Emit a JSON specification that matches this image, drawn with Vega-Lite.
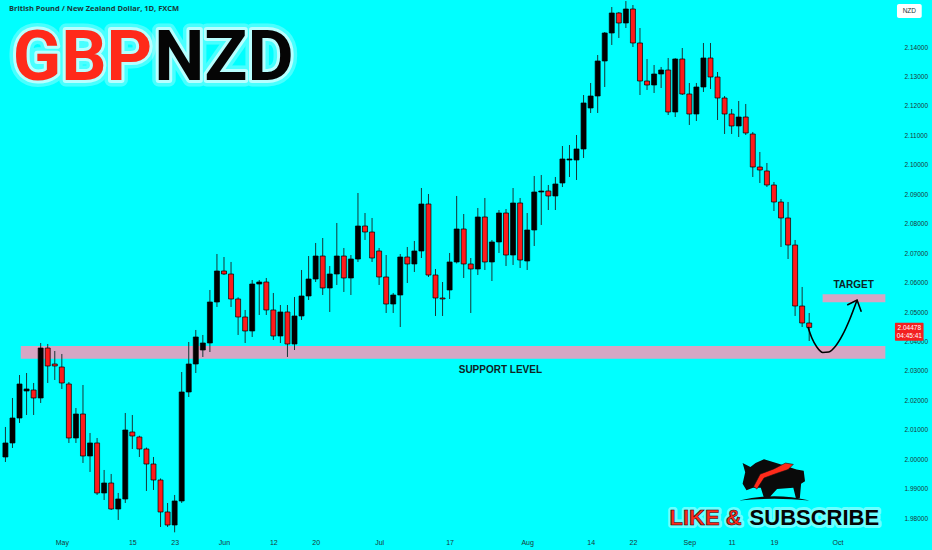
{
"$schema":"https://vega.github.io/schema/vega-lite/v6.json",
"width":895,"height":533,
"autosize":{"type":"none"},
"padding":{"left":0,"top":0,"right":37,"bottom":17},
"background":"#00ffff",
"config":{"view":{"stroke":null}},
"resolve":{"axis":{"x":"independent","y":"independent"}},
"datasets":{
"candles":[
{"i":-8,"o":2.00078,"h":2.01097,"l":1.99908,"c":2.00554},
{"i":-7,"o":2.00554,"h":2.02082,"l":2.00384,"c":2.01402},
{"i":-6,"o":2.01402,"h":2.02862,"l":2.01233,"c":2.02557},
{"i":-5,"o":2.02319,"h":2.02930,"l":2.01504,"c":2.02387},
{"i":-4,"o":2.02353,"h":2.02591,"l":2.01504,"c":2.02082},
{"i":-3,"o":2.02082,"h":2.03949,"l":2.01912,"c":2.03779},
{"i":-2,"o":2.03779,"h":2.03915,"l":2.02591,"c":2.03168},
{"i":-1,"o":2.03236,"h":2.03677,"l":2.02693,"c":2.03168},
{"i":0,"o":2.03134,"h":2.03576,"l":2.02387,"c":2.02591},
{"i":1,"o":2.02557,"h":2.02625,"l":2.00554,"c":2.00723},
{"i":2,"o":2.00723,"h":2.01742,"l":2.00554,"c":2.01538},
{"i":3,"o":2.01538,"h":2.02523,"l":1.99874,"c":2.00112},
{"i":4,"o":2.00112,"h":2.00893,"l":1.99569,"c":2.00554},
{"i":5,"o":2.00554,"h":2.00723,"l":1.98788,"c":1.98856},
{"i":6,"o":1.98856,"h":1.99637,"l":1.98618,"c":1.99195},
{"i":7,"o":1.99195,"h":1.99501,"l":1.98278,"c":1.98312},
{"i":8,"o":1.98312,"h":1.98856,"l":1.97939,"c":1.98652},
{"i":9,"o":1.98652,"h":2.01572,"l":1.98516,"c":2.00995},
{"i":10,"o":2.00927,"h":2.01504,"l":2.00350,"c":2.00791},
{"i":11,"o":2.00757,"h":2.00800,"l":2.00078,"c":2.00350},
{"i":12,"o":2.00350,"h":2.00400,"l":1.98924,"c":1.99840},
{"i":13,"o":1.99840,"h":2.00078,"l":1.98958,"c":1.99297},
{"i":14,"o":1.99297,"h":1.99350,"l":1.97701,"c":1.98211},
{"i":15,"o":1.98211,"h":1.98516,"l":1.97701,"c":1.97769},
{"i":16,"o":1.97769,"h":1.98788,"l":1.97520,"c":1.98584},
{"i":17,"o":1.98584,"h":2.02964,"l":1.98516,"c":2.02285},
{"i":18,"o":2.02285,"h":2.03983,"l":2.02115,"c":2.03236},
{"i":19,"o":2.03236,"h":2.04391,"l":2.02930,"c":2.04153},
{"i":20,"o":2.03711,"h":2.04221,"l":2.03474,"c":2.03949},
{"i":21,"o":2.03949,"h":2.05749,"l":2.03643,"c":2.05341},
{"i":22,"o":2.05341,"h":2.06971,"l":2.05172,"c":2.06394},
{"i":23,"o":2.06394,"h":2.06869,"l":2.06258,"c":2.06292},
{"i":24,"o":2.06292,"h":2.06700,"l":2.05172,"c":2.05443},
{"i":25,"o":2.05443,"h":2.05500,"l":2.04221,"c":2.04832},
{"i":26,"o":2.04832,"h":2.05070,"l":2.03949,"c":2.04357},
{"i":27,"o":2.04357,"h":2.06088,"l":2.04153,"c":2.05952},
{"i":28,"o":2.05952,"h":2.06088,"l":2.04900,"c":2.06020},
{"i":29,"o":2.06020,"h":2.06156,"l":2.04900,"c":2.05070},
{"i":30,"o":2.05070,"h":2.05647,"l":2.04051,"c":2.04187},
{"i":31,"o":2.04187,"h":2.05239,"l":2.03949,"c":2.05002},
{"i":32,"o":2.05002,"h":2.05239,"l":2.03474,"c":2.03915},
{"i":33,"o":2.03915,"h":2.05511,"l":2.03711,"c":2.04866},
{"i":34,"o":2.04866,"h":2.06428,"l":2.04730,"c":2.05545},
{"i":35,"o":2.05545,"h":2.06903,"l":2.05409,"c":2.06122},
{"i":36,"o":2.06122,"h":2.07345,"l":2.06020,"c":2.06903},
{"i":37,"o":2.06903,"h":2.07514,"l":2.05579,"c":2.05817},
{"i":38,"o":2.05817,"h":2.06564,"l":2.05002,"c":2.06292},
{"i":39,"o":2.06292,"h":2.08024,"l":2.05919,"c":2.06903},
{"i":40,"o":2.06903,"h":2.07175,"l":2.05681,"c":2.06156},
{"i":41,"o":2.06156,"h":2.06937,"l":2.05579,"c":2.06801},
{"i":42,"o":2.06801,"h":2.09042,"l":2.06700,"c":2.07922},
{"i":43,"o":2.07922,"h":2.08363,"l":2.07447,"c":2.07718},
{"i":44,"o":2.07718,"h":2.08194,"l":2.06700,"c":2.06835},
{"i":45,"o":2.07073,"h":2.07175,"l":2.05919,"c":2.06190},
{"i":46,"o":2.06190,"h":2.06937,"l":2.04968,"c":2.05273},
{"i":47,"o":2.05273,"h":2.05647,"l":2.04968,"c":2.05579},
{"i":48,"o":2.05579,"h":2.06971,"l":2.04492,"c":2.06869},
{"i":49,"o":2.06869,"h":2.07209,"l":2.05986,"c":2.06632},
{"i":50,"o":2.06632,"h":2.07413,"l":2.06360,"c":2.07073},
{"i":51,"o":2.07073,"h":2.09212,"l":2.06835,"c":2.08669},
{"i":52,"o":2.08669,"h":2.09008,"l":2.06190,"c":2.06258},
{"i":53,"o":2.06258,"h":2.06462,"l":2.04866,"c":2.05477},
{"i":54,"o":2.05477,"h":2.06020,"l":2.04866,"c":2.05443},
{"i":55,"o":2.05749,"h":2.07005,"l":2.05443,"c":2.06700},
{"i":56,"o":2.06700,"h":2.08941,"l":2.06650,"c":2.07820},
{"i":57,"o":2.07820,"h":2.08329,"l":2.06156,"c":2.06632},
{"i":58,"o":2.06632,"h":2.06835,"l":2.04968,"c":2.06462},
{"i":59,"o":2.06462,"h":2.08533,"l":2.06258,"c":2.08228},
{"i":60,"o":2.08228,"h":2.08873,"l":2.06428,"c":2.06700},
{"i":61,"o":2.06700,"h":2.07447,"l":2.06054,"c":2.07379},
{"i":62,"o":2.07379,"h":2.08465,"l":2.07005,"c":2.08363},
{"i":63,"o":2.08363,"h":2.08499,"l":2.06564,"c":2.06937},
{"i":64,"o":2.06937,"h":2.09212,"l":2.06598,"c":2.08703},
{"i":65,"o":2.08703,"h":2.08873,"l":2.06496,"c":2.06767},
{"i":66,"o":2.06733,"h":2.08363,"l":2.06428,"c":2.07786},
{"i":67,"o":2.07786,"h":2.09620,"l":2.07243,"c":2.09076},
{"i":68,"o":2.09076,"h":2.09654,"l":2.07956,"c":2.09110},
{"i":69,"o":2.09110,"h":2.09314,"l":2.08465,"c":2.08941},
{"i":70,"o":2.08941,"h":2.09586,"l":2.08465,"c":2.09348},
{"i":71,"o":2.09382,"h":2.10638,"l":2.09246,"c":2.10197},
{"i":72,"o":2.10163,"h":2.10672,"l":2.09586,"c":2.10197},
{"i":73,"o":2.10163,"h":2.11012,"l":2.09484,"c":2.10537},
{"i":74,"o":2.10537,"h":2.12370,"l":2.10231,"c":2.12099},
{"i":75,"o":2.11929,"h":2.12778,"l":2.11759,"c":2.12336},
{"i":76,"o":2.12336,"h":2.13728,"l":2.11759,"c":2.13525},
{"i":77,"o":2.13525,"h":2.14509,"l":2.12642,"c":2.14475},
{"i":78,"o":2.14475,"h":2.15358,"l":2.14068,"c":2.15155},
{"i":79,"o":2.15155,"h":2.15189,"l":2.14306,"c":2.14815},
{"i":80,"o":2.14815,"h":2.15560,"l":2.14645,"c":2.15290},
{"i":81,"o":2.15290,"h":2.15426,"l":2.14000,"c":2.14136},
{"i":82,"o":2.14136,"h":2.14645,"l":2.12370,"c":2.12846},
{"i":83,"o":2.12846,"h":2.13593,"l":2.12540,"c":2.12710},
{"i":84,"o":2.12710,"h":2.13389,"l":2.12438,"c":2.13083},
{"i":85,"o":2.13083,"h":2.13321,"l":2.12608,"c":2.13219},
{"i":86,"o":2.13219,"h":2.13627,"l":2.11691,"c":2.11793},
{"i":87,"o":2.11793,"h":2.13620,"l":2.11623,"c":2.13593},
{"i":88,"o":2.13593,"h":2.13966,"l":2.12370,"c":2.12404},
{"i":89,"o":2.12404,"h":2.12778,"l":2.11352,"c":2.11725},
{"i":90,"o":2.11725,"h":2.12778,"l":2.11487,"c":2.12642},
{"i":91,"o":2.12642,"h":2.14136,"l":2.12472,"c":2.13627},
{"i":92,"o":2.13627,"h":2.14136,"l":2.12574,"c":2.12981},
{"i":93,"o":2.12981,"h":2.13151,"l":2.11521,"c":2.12268},
{"i":94,"o":2.12268,"h":2.12336,"l":2.11046,"c":2.11725},
{"i":95,"o":2.11725,"h":2.11895,"l":2.11046,"c":2.11318},
{"i":96,"o":2.11318,"h":2.12166,"l":2.10944,"c":2.11623},
{"i":97,"o":2.11623,"h":2.12065,"l":2.11012,"c":2.11080},
{"i":98,"o":2.11046,"h":2.11114,"l":2.09586,"c":2.09925},
{"i":99,"o":2.09925,"h":2.10435,"l":2.09382,"c":2.09823},
{"i":100,"o":2.09790,"h":2.10061,"l":2.09246,"c":2.09314},
{"i":101,"o":2.09314,"h":2.09416,"l":2.08431,"c":2.08737},
{"i":102,"o":2.08737,"h":2.08839,"l":2.07209,"c":2.08194},
{"i":103,"o":2.08194,"h":2.08737,"l":2.06801,"c":2.07277},
{"i":104,"o":2.07277,"h":2.07447,"l":2.04866,"c":2.05205},
{"i":105,"o":2.05205,"h":2.05851,"l":2.04492,"c":2.04628},
{"i":106,"o":2.04628,"h":2.04968,"l":2.04017,"c":2.04478}
],
"zones":[
{"i":-5.82,"i2":116.8,"p":2.0341,"p2":2.0385},
{"i":107.9,"i2":116.8,"p":2.0533,"p2":2.0560}
],
"curve":[
{"i":105.82,"p":2.04492},
{"i":106.38,"p":2.04119},
{"i":107.08,"p":2.03813},
{"i":107.92,"p":2.03627},
{"i":108.77,"p":2.03643},
{"i":109.75,"p":2.03847},
{"i":110.73,"p":2.04221},
{"i":111.71,"p":2.04730},
{"i":112.79,"p":2.05409}
],
"head":[
{"k":1,"i":111.39,"p":2.05239},
{"k":2,"i":112.79,"p":2.05409},
{"k":3,"i":113.39,"p":2.05012}
],
"logo":[{"i":100.98,"p":1.99331}]
},
"layer":[
{"data":{"name":"zones"},"mark":{"type":"rect","color":"#d6a6c4"},
 "encoding":{
  "x":{"field":"i","type":"quantitative","title":null,"scale":{"domain":[-8.06,117.46],"nice":false,"zero":false},
   "axis":{"values":[0,10,16,23,30,36,45,55,66,75,81,89,95,101,110],
    "labelExpr":"['May','15','23','Jun','12','20','Jul','17','Aug','14','22','Sep','11','19','Oct'][indexof([0,10,16,23,30,36,45,55,66,75,81,89,95,101,110], datum.value)]",
    "domain":false,"ticks":false,"grid":false,"labelFont":"Liberation Sans","labelFontSize":7,"labelColor":"#1c3838","labelPadding":5,"labelFlush":false,"labelOverlap":false}},
  "x2":{"field":"i2"},
  "y":{"field":"p","type":"quantitative","title":null,"scale":{"domain":[1.97497,2.15596],"nice":false,"zero":false},
   "axis":{"orient":"right","values":[1.98,1.99,2.0,2.01,2.02,2.03,2.04,2.05,2.06,2.07,2.08,2.09,2.1,2.11,2.12,2.13,2.14],
    "format":".5f","domain":false,"ticks":false,"grid":false,"labelFont":"Liberation Sans","labelFontSize":6.5,"labelColor":"#1c3838","labelPadding":9,"labelFlush":false,"labelOverlap":false,"labelSeparation":0}},
  "y2":{"field":"p2"}}},
{"data":{"name":"candles"},"mark":{"type":"rule","color":"#173535","strokeWidth":1},
 "encoding":{"x":{"field":"i","type":"quantitative","axis":null},"y":{"field":"l","type":"quantitative","axis":null},"y2":{"field":"h"}}},
{"data":{"name":"candles"},"mark":{"type":"bar","width":5,"stroke":"#000000","strokeWidth":0.7},
 "encoding":{"x":{"field":"i","type":"quantitative","axis":null},"y":{"field":"o","type":"quantitative","axis":null},"y2":{"field":"c"},
  "color":{"condition":{"test":"datum.c < datum.o","value":"#ff1a1a"},"value":"#000000"}}},
{"data":{"name":"curve"},"mark":{"type":"line","color":"#000000","strokeWidth":1.6,"interpolate":"monotone"},
 "encoding":{"x":{"field":"i","type":"quantitative","axis":null},"y":{"field":"p","type":"quantitative","axis":null}}},
{"data":{"name":"head"},"mark":{"type":"line","color":"#000000","strokeWidth":1.6,"strokeJoin":"miter"},
 "encoding":{"x":{"field":"i","type":"quantitative","axis":null},"y":{"field":"p","type":"quantitative","axis":null},"order":{"field":"k"}}},
{"data":{"values":[{"i":62.2,"p":2.03032,"t":"SUPPORT LEVEL"},{"i":112.3,"p":2.05919,"t":"TARGET"}]},
 "mark":{"type":"text","font":"Liberation Sans","fontWeight":"bold","fontSize":10,"color":"#0d2424","align":"center","baseline":"middle"},
 "encoding":{"x":{"field":"i","type":"quantitative","axis":null},"y":{"field":"p","type":"quantitative","axis":null},"text":{"field":"t"}}},
{"data":{"values":[{"i":-7.5,"p":2.1529,"t":"British Pound / New Zealand Dollar, 1D, FXCM"}]},
 "mark":{"type":"text","font":"Open Sans","fontWeight":"bold","fontSize":7.5,"color":"#173a3a","align":"left","baseline":"middle"},
 "encoding":{"x":{"field":"i","type":"quantitative","axis":null},"y":{"field":"p","type":"quantitative","axis":null},"text":{"field":"t"}}},
{"data":{"values":[{"i":12.83,"p":2.1288,"t":"GBP"}]},
 "mark":{"type":"text","font":"Roboto","fontWeight":"bold","fontSize":71,"align":"right","baseline":"alphabetic","fill":"#f0ffff","stroke":"#f0ffff","strokeWidth":13,"strokeJoin":"round","opacity":0.3},
 "encoding":{"x":{"field":"i","type":"quantitative","axis":null},"y":{"field":"p","type":"quantitative","axis":null},"text":{"field":"t"}}},
{"data":{"values":[{"i":13.11,"p":2.1288,"t":"NZD"}]},
 "mark":{"type":"text","font":"Roboto","fontWeight":"bold","fontSize":71,"align":"left","baseline":"alphabetic","fill":"#f0ffff","stroke":"#f0ffff","strokeWidth":13,"strokeJoin":"round","opacity":0.3},
 "encoding":{"x":{"field":"i","type":"quantitative","axis":null},"y":{"field":"p","type":"quantitative","axis":null},"text":{"field":"t"}}},
{"data":{"values":[{"i":12.83,"p":2.1288,"t":"GBP"}]},
 "mark":{"type":"text","font":"Roboto","fontWeight":"bold","fontSize":71,"align":"right","baseline":"alphabetic","fill":"#e6ffff","stroke":"#e6ffff","strokeWidth":6,"strokeJoin":"round","opacity":0.7},
 "encoding":{"x":{"field":"i","type":"quantitative","axis":null},"y":{"field":"p","type":"quantitative","axis":null},"text":{"field":"t"}}},
{"data":{"values":[{"i":13.11,"p":2.1288,"t":"NZD"}]},
 "mark":{"type":"text","font":"Roboto","fontWeight":"bold","fontSize":71,"align":"left","baseline":"alphabetic","fill":"#e6ffff","stroke":"#e6ffff","strokeWidth":6,"strokeJoin":"round","opacity":0.7},
 "encoding":{"x":{"field":"i","type":"quantitative","axis":null},"y":{"field":"p","type":"quantitative","axis":null},"text":{"field":"t"}}},
{"data":{"values":[{"i":12.83,"p":2.1288,"t":"GBP"}]},
 "mark":{"type":"text","font":"Roboto","fontWeight":"bold","fontSize":71,"align":"right","baseline":"alphabetic","color":"#ff2a1a"},
 "encoding":{"x":{"field":"i","type":"quantitative","axis":null},"y":{"field":"p","type":"quantitative","axis":null},"text":{"field":"t"}}},
{"data":{"values":[{"i":13.11,"p":2.1288,"t":"NZD"}]},
 "mark":{"type":"text","font":"Roboto","fontWeight":"bold","fontSize":71,"align":"left","baseline":"alphabetic","color":"#050505"},
 "encoding":{"x":{"field":"i","type":"quantitative","axis":null},"y":{"field":"p","type":"quantitative","axis":null},"text":{"field":"t"}}},
{"data":{"name":"logo"},
 "mark":{"type":"point","filled":true,"size":4225,"color":"#0a0a0a","opacity":1,"shape":"M-0.96 0.15 L-0.88 -0.21 L-0.96 -0.49 L-0.72 -0.37 L-0.56 -0.49 L-0.3 -0.61 L0.2 -0.45 L0.7 -0.29 L0.92 -0.25 L0.96 0.07 L0.84 0.15 L0.8 0.59 L0.68 0.59 L0.6 0.27 L0.1 0.31 L-0.16 0.59 L-0.3 0.59 L-0.4 0.27 L-0.64 0.27 L-0.84 0.35 Z M-1.06 0.66 Q0 0.4 1.1 0.66 Q0 0.56 -1.06 0.66 Z"},
 "encoding":{"x":{"field":"i","type":"quantitative","axis":null},"y":{"field":"p","type":"quantitative","axis":null}}},
{"data":{"name":"logo"},
 "mark":{"type":"point","filled":true,"size":4225,"color":"#ff2a1a","opacity":1,"stroke":"#111111","strokeWidth":0.6,"shape":"M-0.62 0.23 L-0.42 -0.15 L0 -0.31 L0.36 -0.49 L0.6 -0.45 L0.44 -0.29 L0.08 -0.17 L-0.3 -0.03 L-0.52 0.31 Z"},
 "encoding":{"x":{"field":"i","type":"quantitative","axis":null},"y":{"field":"p","type":"quantitative","axis":null}}},
{"data":{"values":[{"i":96.42,"p":1.97769,"t":"LIKE &"}]},
 "mark":{"type":"text","font":"Liberation Sans","fontWeight":"bold","fontSize":22,"align":"right","baseline":"alphabetic","fill":"#d8ffff","stroke":"#d8ffff","strokeWidth":6,"strokeJoin":"round","opacity":0.5},
 "encoding":{"x":{"field":"i","type":"quantitative","axis":null},"y":{"field":"p","type":"quantitative","axis":null},"text":{"field":"t"}}},
{"data":{"values":[{"i":115.92,"p":1.97769,"t":"SUBSCRIBE"}]},
 "mark":{"type":"text","font":"Liberation Sans","fontWeight":"bold","fontSize":22,"align":"right","baseline":"alphabetic","fill":"#d8ffff","stroke":"#d8ffff","strokeWidth":6,"strokeJoin":"round","opacity":0.5},
 "encoding":{"x":{"field":"i","type":"quantitative","axis":null},"y":{"field":"p","type":"quantitative","axis":null},"text":{"field":"t"}}},
{"data":{"values":[{"i":96.42,"p":1.97769,"t":"LIKE &"}]},
 "mark":{"type":"text","font":"Liberation Sans","fontWeight":"bold","fontSize":22,"align":"right","baseline":"alphabetic","color":"#ff2a1a","stroke":"#1a0000","strokeWidth":0.6},
 "encoding":{"x":{"field":"i","type":"quantitative","axis":null},"y":{"field":"p","type":"quantitative","axis":null},"text":{"field":"t"}}},
{"data":{"values":[{"i":115.92,"p":1.97769,"t":"SUBSCRIBE"}]},
 "mark":{"type":"text","font":"Liberation Sans","fontWeight":"bold","fontSize":22,"align":"right","baseline":"alphabetic","color":"#050505"},
 "encoding":{"x":{"field":"i","type":"quantitative","axis":null},"y":{"field":"p","type":"quantitative","axis":null},"text":{"field":"t"}}},
{"data":{"values":[{"i":118.45,"i2":121.96,"p":2.1546,"p2":2.14985}]},
 "mark":{"type":"rect","color":"#ffffff","cornerRadius":2},
 "encoding":{"x":{"field":"i","type":"quantitative","axis":null},"x2":{"field":"i2"},"y":{"field":"p","type":"quantitative","axis":null},"y2":{"field":"p2"}}},
{"data":{"values":[{"i":120.2,"p":2.15222,"t":"NZD"}]},
 "mark":{"type":"text","font":"Liberation Sans","fontSize":6.5,"color":"#1c3838","align":"center","baseline":"middle"},
 "encoding":{"x":{"field":"i","type":"quantitative","axis":null},"y":{"field":"p","type":"quantitative","axis":null},"text":{"field":"t"}}},
{"data":{"values":[{"i":118.16,"i2":122.22,"p":2.04638,"p2":2.04027}]},
 "mark":{"type":"rect","color":"#f22020","cornerRadius":1},
 "encoding":{"x":{"field":"i","type":"quantitative","axis":null},"x2":{"field":"i2"},"y":{"field":"p","type":"quantitative","axis":null},"y2":{"field":"p2"}}},
{"data":{"values":[{"i":120.2,"p":2.04458,"t":"2.04478"},{"i":120.2,"p":2.04187,"t":"04:45:41"}]},
 "mark":{"type":"text","font":"Liberation Sans","fontSize":6.5,"color":"#ffffff","align":"center","baseline":"middle"},
 "encoding":{"x":{"field":"i","type":"quantitative","axis":null},"y":{"field":"p","type":"quantitative","axis":null},"text":{"field":"t"}}}
]
}
